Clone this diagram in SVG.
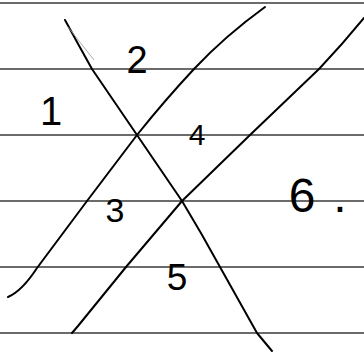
<svg xmlns="http://www.w3.org/2000/svg" width="364" height="362" viewBox="0 0 364 362">
<style>
.rule{stroke:#3a3a3a;stroke-width:1.4;fill:none}
.pen{stroke:#000;stroke-width:2;fill:none;stroke-linecap:round;stroke-linejoin:round}
.lbl{font-family:"Liberation Sans","DejaVu Sans",sans-serif;fill:#000;text-anchor:middle}
</style>
<rect width="364" height="362" fill="#fff"/>
<g id="rules">
<line class="rule" x1="0" y1="3" x2="364" y2="3"/>
<line class="rule" x1="0" y1="69" x2="364" y2="69"/>
<line class="rule" x1="0" y1="135" x2="364" y2="135"/>
<line class="rule" x1="0" y1="201" x2="364" y2="201"/>
<line class="rule" x1="0" y1="267" x2="364" y2="267"/>
<line class="rule" x1="0" y1="333" x2="364" y2="333"/>
</g>
<g id="strokes">
<path class="pen" d="M65,20 Q78,44 92,69 L182,201 Q202,234 220,267 L257,333 L272,351"/>
<path d="M68,27 L94,60" stroke="#999" stroke-width="0.8" fill="none"/>
<path class="pen" d="M8,297 Q22,291 37,268 L87,201 L137,135 Q165,100 194,69 Q225,36 265,7"/>
<path class="pen" d="M72,333 L78,326 L126,267 L182,201 L250,135 L319,69 Q342,45 364,18"/>
</g>
<g id="labels">
<text class="lbl" x="51" y="125" font-size="40">1</text>
<text class="lbl" x="137" y="73" font-size="38">2</text>
<text class="lbl" x="197" y="145" font-size="30">4</text>
<text class="lbl" x="115" y="222" font-size="34">3</text>
<text class="lbl" x="177" y="290" font-size="37">5</text>
<text class="lbl" x="302" y="212" font-size="48">6<tspan x="340">.</tspan></text>
</g>
</svg>
